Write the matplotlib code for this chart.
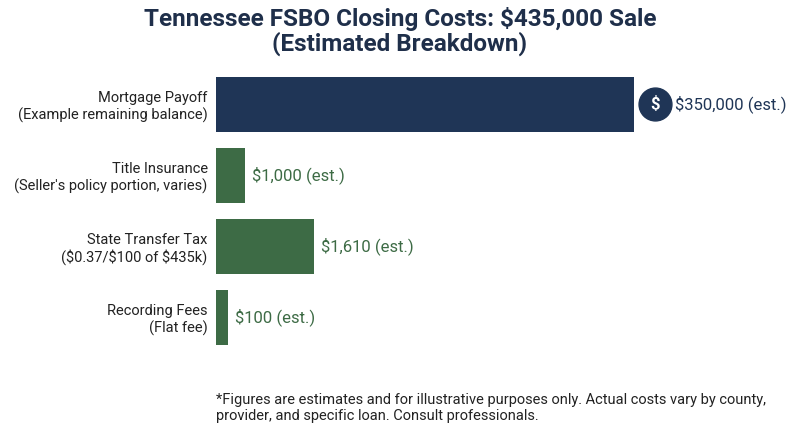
import matplotlib.pyplot as plt

plt.rcParams['font.family'] = ['Roboto', 'DejaVu Sans']

categories = ["Mortgage Payoff\n(Example remaining balance)",
              "Title Insurance\n(Seller's policy portion, varies)",
              "State Transfer Tax\n($0.37/$100 of $435k)",
              "Recording Fees\n(Flat fee)"]
values = [350000, 1000, 1610, 100]
# bar lengths as drawn in the source chart (not to scale)
display_len = [418, 29, 98, 12]
labels = ["$350,000 (est.)", "$1,000 (est.)", "$1,610 (est.)", "$100 (est.)"]
colors = ["#1f3556", "#3d6b45", "#3d6b45", "#3d6b45"]

fig = plt.figure(figsize=(8, 4.36), dpi=100)
ax = fig.add_axes([0.27, 0.183, 0.73, 0.667])
y = range(len(categories))
ax.barh(y, display_len, height=0.77, color=colors)
ax.set_xlim(0, 584)
ax.set_ylim(3.55, -0.55)
ax.set_yticks(list(y))
ax.set_yticklabels(categories, fontsize=10.5, color="#222222", ha="right")
ax.tick_params(axis="y", length=0, pad=6)
ax.set_xticks([])
for s in ax.spines.values():
    s.set_visible(False)

for i, (w, lab, c) in enumerate(zip(display_len, labels, colors)):
    x = w + 7 + (34 if i == 0 else 0)
    ax.text(x, i, lab, va="center", ha="left", fontsize=12, color=c)

ax.scatter([display_len[0] + 21], [0], s=560, color=colors[0], zorder=3, clip_on=False)
ax.text(display_len[0] + 21, 0, "$", color="white", ha="center", va="center",
        fontsize=12, fontweight="bold", zorder=4)

fig.text(0.5, 0.985, "Tennessee FSBO Closing Costs: $435,000 Sale\n(Estimated Breakdown)",
         ha="center", va="top", fontsize=17.5, fontweight="bold", color="#1f2f4a",
         linespacing=1.05)
fig.text(0.27, 0.03, "*Figures are estimates and for illustrative purposes only. Actual costs vary by county,\nprovider, and specific loan. Consult professionals.",
         ha="left", va="bottom", fontsize=10.5, color="#222222")

fig.savefig("out.png", dpi=100)
